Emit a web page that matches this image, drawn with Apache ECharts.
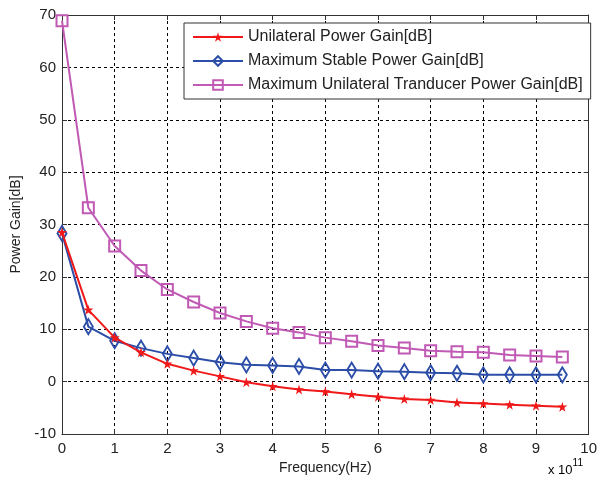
<!DOCTYPE html>
<html><head><meta charset="utf-8">
<script src="https://cdn.jsdelivr.net/npm/echarts@6/dist/echarts.min.js"></script>
<style>html,body{margin:0;padding:0;background:#fff}#c{width:600px;height:481px}</style>
</head><body><div id="c"></div>
<script>
const freq = [0,0.5,1,1.5,2,2.5,3,3.5,4,4.5,5,5.5,6,6.5,7,7.5,8,8.5,9,9.5];
const unilateral = [28.5,13.7,8.4,5.6,3.4,2.1,1.0,-0.1,-0.9,-1.5,-1.9,-2.4,-2.9,-3.3,-3.5,-4.0,-4.2,-4.4,-4.6,-4.8];
const maxStable = [28.3,10.5,7.8,6.4,5.3,4.5,3.7,3.2,3.1,2.9,2.2,2.2,2.0,1.9,1.7,1.6,1.3,1.3,1.3,1.3];
const maxUnilateralTransducer = [68.9,33.2,25.9,21.2,17.6,15.2,13.1,11.5,10.2,9.4,8.4,7.7,6.9,6.4,5.9,5.7,5.6,5.1,4.9,4.7];
const xTicks = [0,1,2,3,4,5,6,7,8,9,10];
const yTicks = [-10,0,10,20,30,40,50,60,70];
const names = ['Unilateral Power Gain[dB]','Maximum Stable Power Gain[dB]','Maximum Unilateral Tranducer Power Gain[dB]'];

const FONT = 'Liberation Sans, Arial, sans-serif';
const pair = arr => freq.map((f,i)=>[f,arr[i]]);
const star = 'path://M0,-10 L2,-3 L9,-3 L3.5,1.5 L5.5,9 L0,4.5 L-5.5,9 L-3.5,1.5 L-9,-3 L-2,-3 Z';

const chart = echarts.init(document.getElementById('c'), null, {renderer:'canvas'});
const axisCommon = {
  axisLine:{show:true,onZero:false,lineStyle:{color:'#333',width:1}},
  axisTick:{show:true,inside:true,length:5,lineStyle:{color:'#333'}},
  splitLine:{show:false}
};
chart.setOption({
  animation:false,
  grid:{left:62,right:7,top:15,bottom:47,containLabel:false},
  legend:{
    orient:'vertical',left:184,top:23,
    backgroundColor:'#fff',borderColor:'#333',borderWidth:1,
    padding:[6,8,6,8],itemGap:8,itemWidth:50,itemHeight:12,
    textStyle:{fontFamily:FONT,fontSize:16,color:'#222'},
    data:names
  },
  xAxis:[
    Object.assign({type:'value',min:0,max:10,interval:1,position:'bottom',
      axisLabel:{fontFamily:FONT,fontSize:15,color:'#222',margin:7},
      name:'Frequency(Hz)',nameLocation:'middle',nameGap:26,
      nameTextStyle:{fontFamily:FONT,fontSize:14,color:'#222'}}, axisCommon,
      {splitLine:{show:true,lineStyle:{color:'#000',type:[3,3],width:1}}}),
    Object.assign({type:'value',min:0,max:10,interval:1,position:'top',axisLabel:{show:false}}, axisCommon)
  ],
  yAxis:[
    Object.assign({type:'value',min:-10,max:70,interval:10,position:'left',
      axisLabel:{fontFamily:FONT,fontSize:15,color:'#222',margin:6},
      name:'Power Gain[dB]',nameLocation:'middle',nameGap:38,nameRotate:90,
      nameTextStyle:{fontFamily:FONT,fontSize:14,color:'#222'}}, axisCommon,
      {splitLine:{show:true,lineStyle:{color:'#000',type:[3,3],width:1}}}),
    Object.assign({type:'value',min:-10,max:70,interval:10,position:'right',axisLabel:{show:false}}, axisCommon)
  ],
  graphic:[{
    type:'text',left:548,top:458,
    style:{text:'{a|x 10}{b|11}',rich:{
      a:{fontFamily:FONT,fontSize:13,color:'#222',padding:[6,0,0,0]},
      b:{fontFamily:FONT,fontSize:10,color:'#222',verticalAlign:'top',padding:[0,0,8,0]}}}
  }],
  series:[
    {name:names[0],type:'line',data:pair(unilateral),symbol:star,symbolSize:10,
     lineStyle:{color:'#f01818',width:2},itemStyle:{color:'#f01818'},z:4},
    {name:names[1],type:'line',data:pair(maxStable),symbol:'diamond',symbolSize:[9,15],
     lineStyle:{color:'#2c4ea8',width:2},itemStyle:{color:'rgba(255,255,255,0)',borderColor:'#2c4ea8',borderWidth:2},z:3},
    {name:names[2],type:'line',data:pair(maxUnilateralTransducer),symbol:'rect',symbolSize:11,
     lineStyle:{color:'#c05ab4',width:2},itemStyle:{color:'rgba(255,255,255,0)',borderColor:'#c05ab4',borderWidth:2},z:2}
  ]
});
</script></body></html>
